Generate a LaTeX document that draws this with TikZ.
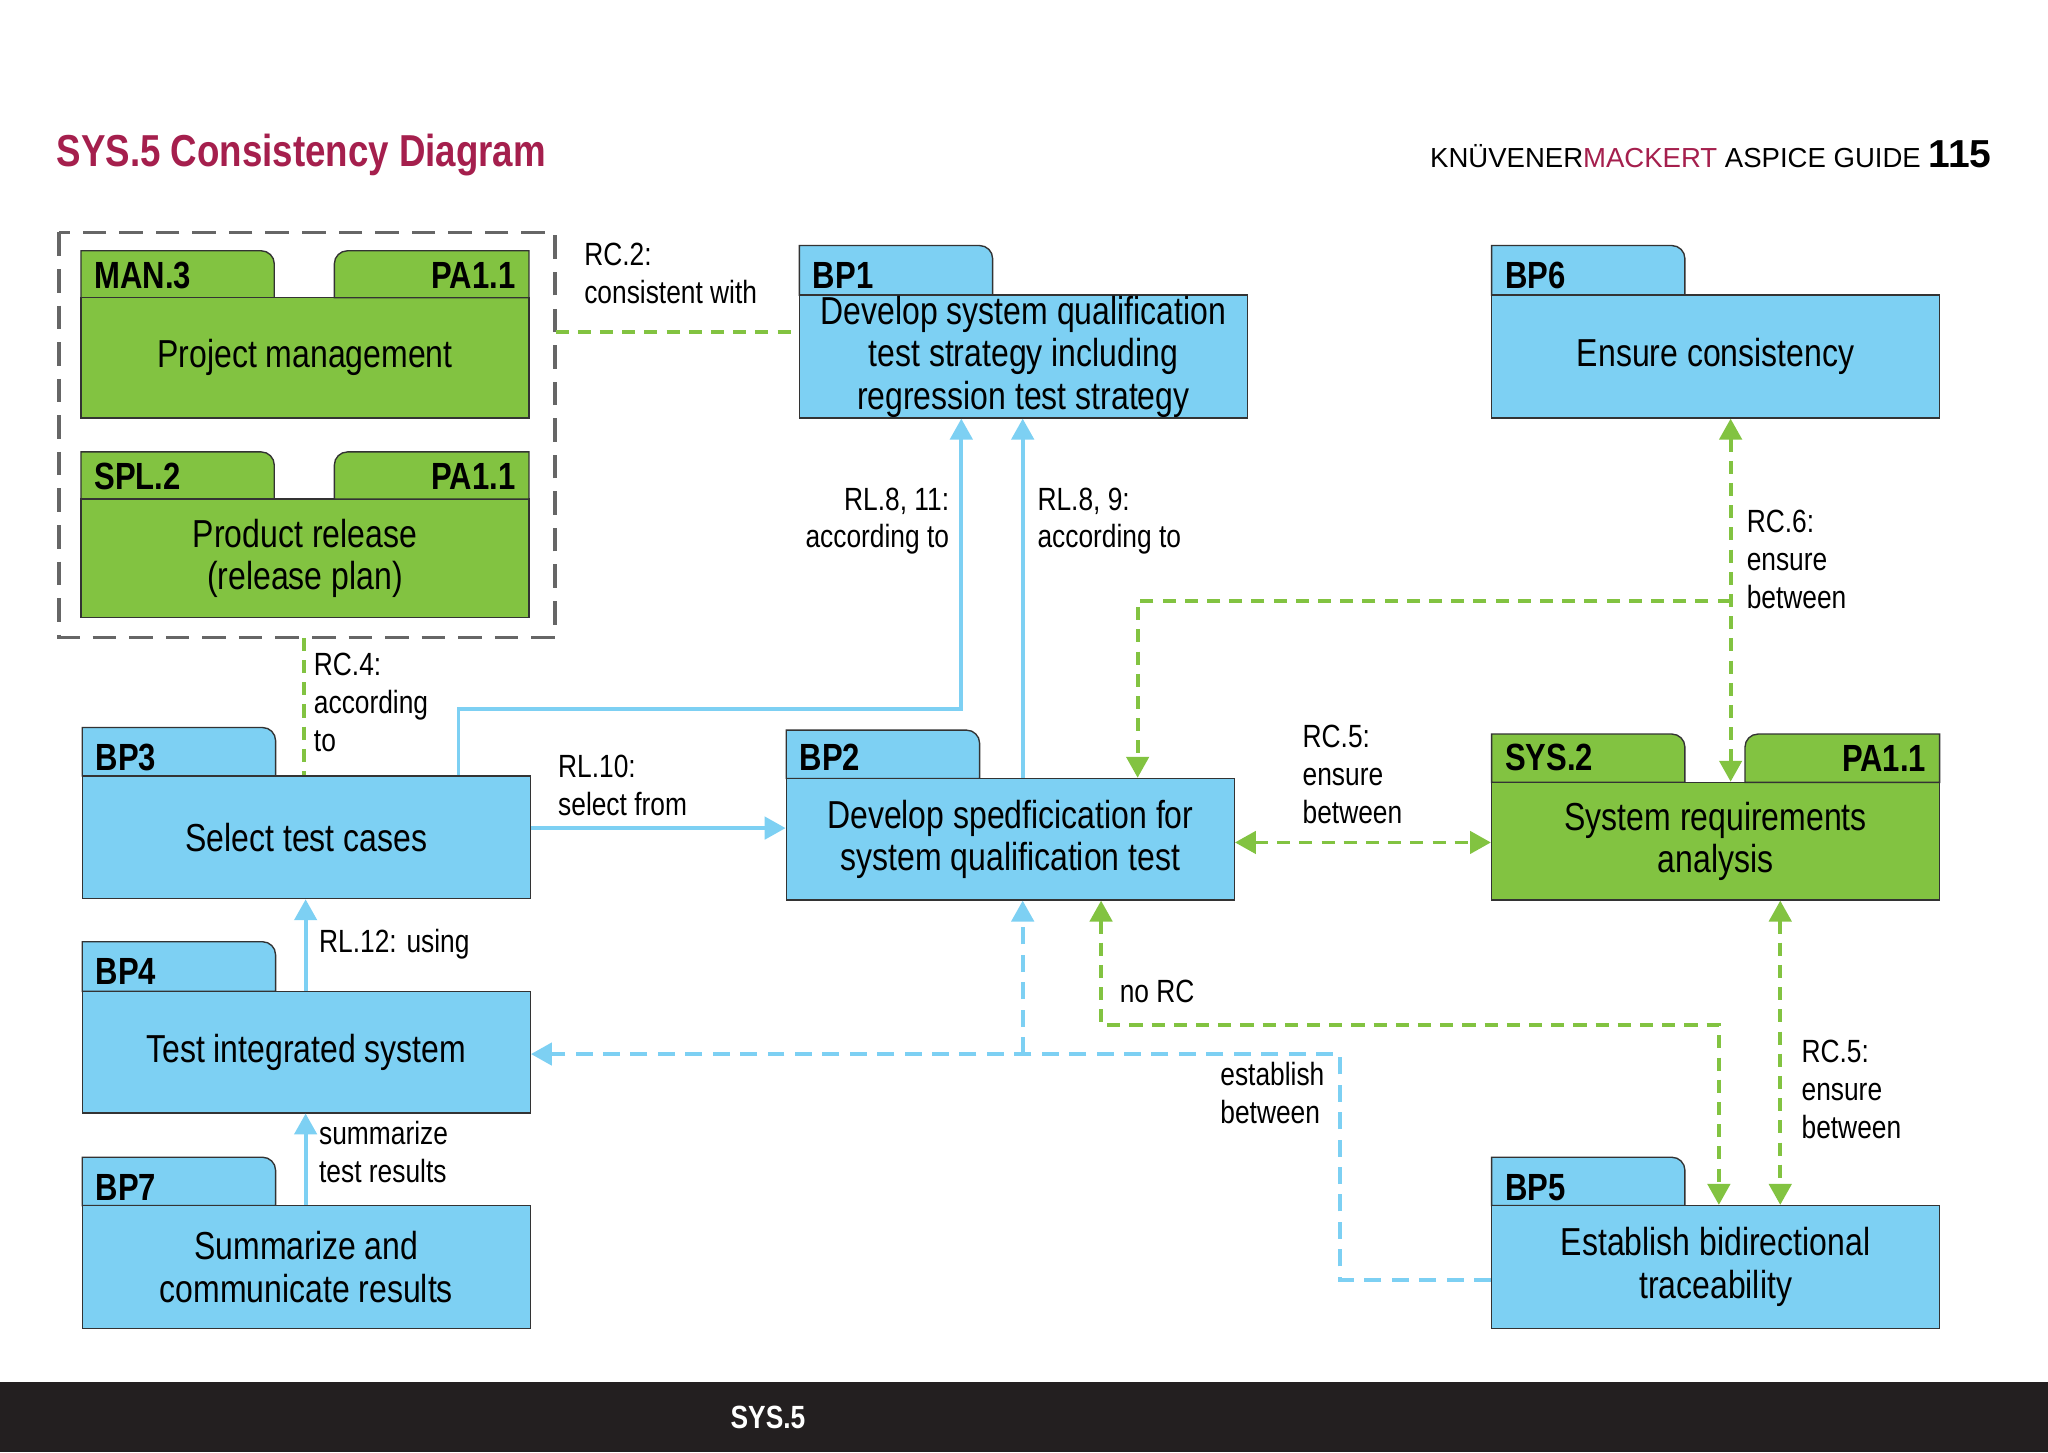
\documentclass[tikz,border=0pt]{standalone}
\usepackage{fontspec}
\setmainfont{Liberation Sans}[FakeStretch=0.82]
\usetikzlibrary{arrows.meta,fit}
\definecolor{kblue}{HTML}{7DD0F3}
\definecolor{kgreen}{HTML}{82C341}
\definecolor{kred}{HTML}{A51F4D}
\definecolor{kbar}{HTML}{231F20}
\definecolor{kgray}{HTML}{666666}
\tikzset{
  x=0.02cm, y=-0.02cm,
  bl/.style={draw=kblue, line width=1.7pt},
  bd/.style={bl, dash pattern=on 0.26cm off 0.16cm},
  gd/.style={draw=kgreen, line width=1.7pt, dash pattern=on 0.2cm off 0.14cm},
  body/.style={draw=black!80, line width=0.6pt, inner sep=0pt},
  txt/.style={font=\fontsize{17}{18.5}\selectfont, align=center},
  lab/.style={font=\fontsize{14}{16.5}\selectfont, align=left, anchor=north west, inner sep=0pt},
  tablab/.style={font=\bfseries\fontsize{16.5}{17}\selectfont, inner sep=0pt, anchor=west},
  >={Triangle[length=0.32cm,width=0.34cm]}
}
% name, x1, ytab, y1, x2, y2, fill
\newcommand\kmbox[7]{%
  \filldraw[fill=#7, draw=black!80, line width=0.6pt] (#2,#4) -- (#2,#3) -- (#2+138,#3) to[out=0,in=90] (#2+148,#3+10) -- (#2+148,#4) -- cycle;
  \node[body, fill=#7, fit={(#2,#4)(#5,#6)}] (#1) {};}
% x2, ytab, y1, fill, label
\newcommand\kmtabr[5]{%
  \filldraw[fill=#4, draw=black!80, line width=0.6pt] (#1,#3) -- (#1,#2) -- (#1-139,#2) to[out=180,in=90] (#1-149,#2+10) -- (#1-149,#3) -- cycle;
  \node[tablab, anchor=east] at (#1-10,#2+19) {#5};}
\begin{document}
\begin{tikzpicture}
\useasboundingbox (0,0) rectangle (1568,1112);
\fill[white] (0,0) rectangle (1568,1112);
% header
\node[anchor=west, inner sep=0, text=kred, font=\bfseries\fontsize{19.5}{21}\selectfont] (title) at (43,119) {SYS.5 Consistency Diagram};
\node[anchor=east, inner sep=0, font=\addfontfeature{FakeStretch=1}\fontsize{12}{14}\selectfont] (guide) at (1525,118) {KNÜVENER\textcolor{kred}{MACKERT} ASPICE GUIDE \textbf{\fontsize{17}{18}\selectfont 115}};
\fill[kbar] (0,1058) rectangle (1568,1112);
\node[text=white, font=\bfseries\fontsize{14}{16}\selectfont] (foot) at (588,1085) {SYS.5};
% boxes
\kmbox{man3}{62}{192}{228}{405}{320}{kgreen}
\kmtabr{405}{192}{228}{kgreen}{PA1.1}
\node[tablab] at (72,211) {MAN.3};
\node[txt] at (man3) {Project management};
\kmbox{spl2}{62}{346}{382}{405}{473}{kgreen}
\kmtabr{405}{346}{382}{kgreen}{PA1.1}
\node[tablab] at (72,365) {SPL.2};
\node[txt] at (spl2) {Product release\\(release plan)};
\draw[kgray, line width=1.6pt, dash pattern=on 0.36cm off 0.2cm] (45,178) rectangle (425,488);
\node[fit={(45,178)(425,488)}, inner sep=0] (frame) {};

\kmbox{bp1}{612}{188}{226}{955}{320}{kblue}
\node[tablab] at (622,211) {BP1};
\node[txt] at (bp1) {Develop system qualification\\test strategy including\\regression test strategy};
\kmbox{bp6}{1142}{188}{226}{1485}{320}{kblue}
\node[tablab] at (1152,211) {BP6};
\node[txt] at (bp6) {Ensure consistency};
\kmbox{bp3}{63}{557}{594}{406}{688}{kblue}
\node[tablab] at (73,580) {BP3};
\node[txt] at (bp3) {Select test cases};
\kmbox{bp2}{602}{559}{596}{945}{689}{kblue}
\node[tablab] at (612,580) {BP2};
\node[txt] at (bp2) {Develop spedficication for\\system qualification test};
\kmbox{sys2}{1142}{562}{599}{1485}{689}{kgreen}
\kmtabr{1485}{562}{599}{kgreen}{PA1.1}
\node[tablab] at (1152,580) {SYS.2};
\node[txt] at (sys2) {System requirements\\analysis};
\kmbox{bp4}{63}{721}{759}{406}{852}{kblue}
\node[tablab] at (73,744) {BP4};
\node[txt] at (bp4) {Test integrated system};
\kmbox{bp7}{63}{886}{923}{406}{1017}{kblue}
\node[tablab] at (73,909) {BP7};
\node[txt] at (bp7) {Summarize and\\communicate results};
\kmbox{bp5}{1142}{886}{923}{1485}{1017}{kblue}
\node[tablab] at (1152,909) {BP5};
\node[txt] at (bp5) {Establish bidirectional\\traceability};

% coordinates
\coordinate (c1) at (351,543);
\coordinate (c2) at (736,543);
\coordinate (c3) at (783,400);
\coordinate (c4) at (1325,460);
\coordinate (c5) at (871,460);
\coordinate (c6) at (1026,980);
\coordinate (c7) at (1026,807);
\coordinate (c8) at (783,807);
\coordinate (c9) at (843,785);
\coordinate (c10) at (1316,785);
\coordinate (c11) at (233,500);
\coordinate (c12) at (1363,700);
\coordinate (c13) at (500,254);
\coordinate (c14) at (234,700);
\coordinate (c15) at (774,645);
\coordinate (c16) at (500,634);

% connectors
\draw[gd] (frame.east |- c13) -- (bp1.west |- c13);
\node[lab] at (447,186) {RC.2:\\consistent with};
\draw[gd] (frame.south -| c11) -- (bp3.north -| c11);
\node[lab] at (240,500) {RC.4:\\according\\to};
\draw[bl,->] (bp3.north -| c1) -- (c1) -- (c2) -- (bp1.south -| c2);
\node[lab, align=right, anchor=north east] at (727,373) {RL.8, 11:\\according to};
\draw[bl,->] (bp2.north -| c3) -- (bp1.south -| c3);
\node[lab] at (794,373) {RL.8, 9:\\according to};
\draw[gd,<->] (bp6.south -| c4) -- (sys2.north -| c4);
\draw[gd,->] (c4) -- (c5) -- (bp2.north -| c5);
\node[lab] at (1337,390) {RC.6:\\ensure\\between};
\draw[bl,->] (bp3.east |- c16) -- (bp2.west |- c16);
\node[lab] at (427,578) {RL.10:\\select from};
\draw[gd,<->] (bp2.east |- c15) -- (sys2.west |- c15);
\node[lab] at (997,555) {RC.5:\\ensure\\between};
\draw[bl,->] (bp4.north -| c14) -- (bp3.south -| c14);
\node[lab] at (244,711) {RL.12: using};
\draw[bl,->] (bp7.north -| c14) -- (bp4.south -| c14);
\node[lab] at (244,858) {summarize\\test results};
\draw[bd,->] (bp5.west |- c6) -- (c6) -- (c7) -- (bp4.east |- c7);
\draw[bd,->] (c8) -- (bp2.south -| c8);
\node[lab] at (934,813) {establish\\between};
\draw[gd,<->] (bp2.south -| c9) -- (c9) -- (c10) -- (bp5.north -| c10);
\node[lab] at (857,750) {no RC};
\draw[gd,<->] (sys2.south -| c12) -- (bp5.north -| c12);
\node[lab] at (1379,796) {RC.5:\\ensure\\between};
\end{tikzpicture}
\end{document}
